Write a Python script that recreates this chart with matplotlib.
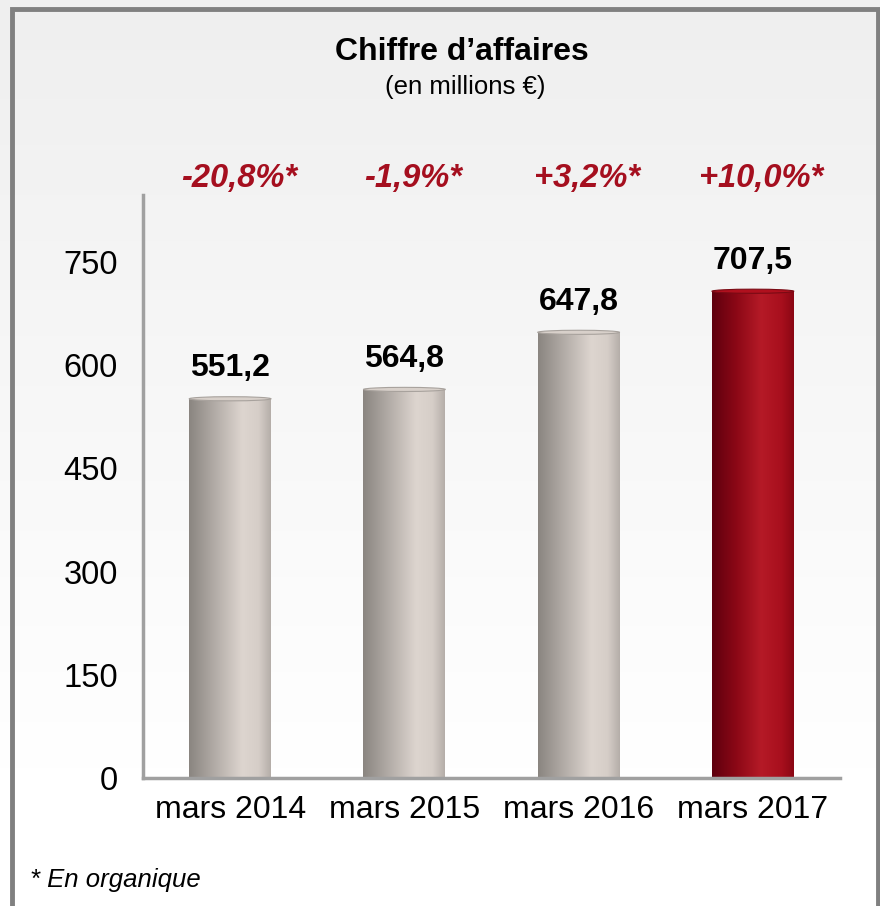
import numpy as np
import matplotlib
matplotlib.use("Agg")
import matplotlib.pyplot as plt
from matplotlib.colors import LinearSegmentedColormap
from matplotlib.patches import Rectangle, Ellipse
import matplotlib.transforms as mtransforms

plt.rcParams['font.family'] = ['Liberation Sans', 'DejaVu Sans']

categories = ["mars 2014", "mars 2015", "mars 2016", "mars 2017"]
values = [551.2, 564.8, 647.8, 707.5]
value_labels = ["551,2", "564,8", "647,8", "707,5"]
growth_labels = ["-20,8%*", "-1,9%*", "+3,2%*", "+10,0%*"]
yticks = [0, 150, 300, 450, 600, 750]
title = "Chiffre d\u2019affaires"
subtitle = "(en millions \u20ac)"
footnote = "* En organique"

W, H = 880, 906
fig = plt.figure(figsize=(W / 100, H / 100), dpi=100)

# background gradient
bg = fig.add_axes([0, 0, 1, 1], zorder=-10)
grad = np.linspace(0, 1, 256).reshape(-1, 1)
bg_cmap = LinearSegmentedColormap.from_list("bg", [(0, "#ffffff"), (0.15, "#ffffff"), (1, "#efefef")])
bg.imshow(grad, aspect="auto", cmap=bg_cmap, extent=[0, 1, 0, 1], origin="lower")
bg.set_xlim(0, 1); bg.set_ylim(0, 1)
bg.axis("off")
# frame border
bg.add_patch(Rectangle((11.5 / W, -0.05), (877.5 - 11.5) / W, 1.05 - 9.5 / H,
                       fill=False, edgecolor="#808080", linewidth=3.5))

ax = fig.add_axes([143 / W, 1 - 778 / H, (840 - 143) / W, (778 - 195) / H])
ax.set_facecolor("none")
ymax = (778 - 195) / 0.688
ax.set_xlim(-0.5, len(categories) - 0.5)
ax.set_ylim(0, ymax)

gray_cmap = LinearSegmentedColormap.from_list(
    "g", [(0, "#8a8580"), (0.25, "#aaa49f"), (0.65, "#ddd5cf"), (0.85, "#d6cec8"), (1, "#b5aea9")])
red_cmap = LinearSegmentedColormap.from_list(
    "r", [(0, "#5e000e"), (0.3, "#8c0816"), (0.6, "#b51a27"), (0.85, "#a80f1d"), (1, "#8a0714")])

bw = 0.47
hgrad = np.linspace(0, 1, 256).reshape(1, -1)
for i, v in enumerate(values):
    cmap = red_cmap if i == len(values) - 1 else gray_cmap
    x0, x1 = i - bw / 2, i + bw / 2
    ax.imshow(hgrad, aspect="auto", cmap=cmap, extent=[x0, x1, 0, v], origin="lower", zorder=2)
    capcol = "#b0101e" if i == len(values) - 1 else "#d8d0ca"
    edgecol = "#7a0a14" if i == len(values) - 1 else "#a8a29d"
    ax.add_patch(Ellipse((i, v), bw, 6, facecolor=capcol, edgecolor=edgecol, linewidth=0.8, zorder=3))
    ax.annotate(value_labels[i], (i, v), xytext=(0, 11), textcoords="offset points",
                ha="center", va="bottom", fontsize=23, fontweight="bold", color="#000000")

trans = mtransforms.blended_transform_factory(ax.transData, fig.transFigure)
for i, g in enumerate(growth_labels):
    ax.text(i + 0.05, 1 - 178 / H, g, transform=trans, ha="center", va="center",
            fontsize=23.5, fontweight="bold", fontstyle="italic", color="#a50f1f", clip_on=False)

ax.set_xticks(range(len(categories)))
ax.set_xticklabels(categories, fontsize=23)
ax.set_yticks(yticks)
ax.set_yticklabels([str(t) for t in yticks], fontsize=23.5)
ax.tick_params(axis="both", length=0)
ax.tick_params(axis="y", pad=18)
ax.tick_params(axis="x", pad=12)
for s in ["top", "right"]:
    ax.spines[s].set_visible(False)
for s in ["left", "bottom"]:
    ax.spines[s].set_color("#a0a0a0")
    ax.spines[s].set_linewidth(2.5)

fig.text(462 / W, 1 - 52 / H, title, ha="center", va="center", fontsize=23, fontweight="bold")
fig.text(465 / W, 1 - 87 / H, subtitle, ha="center", va="center", fontsize=18.5)
fig.text(30 / W, 1 - 880 / H, footnote, ha="left", va="center", fontsize=18.5, fontstyle="italic")

fig.savefig("out.png", dpi=100)
